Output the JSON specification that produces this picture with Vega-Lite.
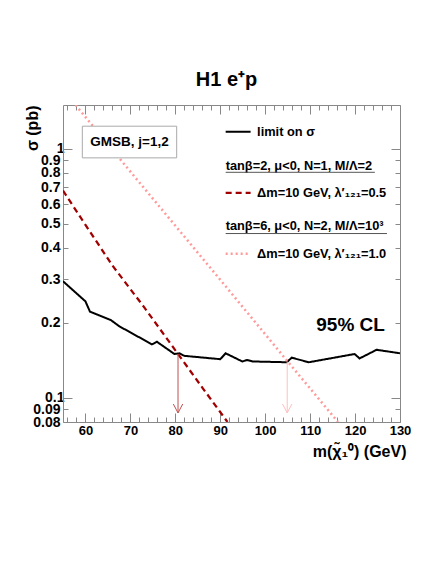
{
  "$schema": "https://vega.github.io/schema/vega-lite/v6.json",
  "autosize": {"type": "none"},
  "width": 337,
  "height": 317,
  "padding": {"left": 63, "top": 105, "right": 36, "bottom": 142},
  "background": "white",
  "title": {"text": "H1 e⁺p", "anchor": "middle", "offset": 12, "dx": -5, "fontSize": 20, "font": "Liberation Sans", "fontWeight": "bold", "color": "black"},
  "config": {
    "view": {"stroke": null},
    "font": "Liberation Sans",
    "axis": {"domainColor": "#888888", "tickColor": "#888888", "grid": false, "labelFont": "Liberation Sans", "labelFontWeight": "bold", "labelFontSize": 13, "labelColor": "black", "titleFont": "Liberation Sans", "titleFontWeight": "bold", "titleFontSize": 16, "titleColor": "black"}
  },
  "datasets": {
    "curves": [
      {"m": 55, "sigma": 0.294, "curve": "limit"},
      {"m": 60, "sigma": 0.244, "curve": "limit"},
      {"m": 61, "sigma": 0.222, "curve": "limit"},
      {"m": 65.7, "sigma": 0.205, "curve": "limit"},
      {"m": 67.5, "sigma": 0.194, "curve": "limit"},
      {"m": 74.8, "sigma": 0.164, "curve": "limit"},
      {"m": 75.9, "sigma": 0.168, "curve": "limit"},
      {"m": 79.8, "sigma": 0.150, "curve": "limit"},
      {"m": 80.9, "sigma": 0.151, "curve": "limit"},
      {"m": 82, "sigma": 0.1475, "curve": "limit"},
      {"m": 90, "sigma": 0.143, "curve": "limit"},
      {"m": 91.2, "sigma": 0.151, "curve": "limit"},
      {"m": 94.9, "sigma": 0.140, "curve": "limit"},
      {"m": 96, "sigma": 0.142, "curve": "limit"},
      {"m": 97.2, "sigma": 0.140, "curve": "limit"},
      {"m": 104.8, "sigma": 0.139, "curve": "limit"},
      {"m": 105.9, "sigma": 0.145, "curve": "limit"},
      {"m": 109.7, "sigma": 0.139, "curve": "limit"},
      {"m": 119.9, "sigma": 0.150, "curve": "limit"},
      {"m": 121, "sigma": 0.144, "curve": "limit"},
      {"m": 124.8, "sigma": 0.156, "curve": "limit"},
      {"m": 130, "sigma": 0.151, "curve": "limit"},
      {"m": 55, "sigma": 0.68, "curve": "n1"},
      {"m": 60, "sigma": 0.495, "curve": "n1"},
      {"m": 66, "sigma": 0.34, "curve": "n1"},
      {"m": 73, "sigma": 0.232, "curve": "n1"},
      {"m": 80.6, "sigma": 0.150, "curve": "n1"},
      {"m": 86, "sigma": 0.110, "curve": "n1"},
      {"m": 91.6, "sigma": 0.08, "curve": "n1"},
      {"m": 57.8, "sigma": 1.5, "curve": "n2"},
      {"m": 70, "sigma": 0.81, "curve": "n2"},
      {"m": 90, "sigma": 0.298, "curve": "n2"},
      {"m": 105, "sigma": 0.14, "curve": "n2"},
      {"m": 116.2, "sigma": 0.08, "curve": "n2"}
    ],
    "arrows": [
      {"m": 80.6, "top": 0.15, "tip": 0.087, "curve": "n1"},
      {"m": 104.9, "top": 0.14, "tip": 0.087, "curve": "n2"}
    ],
    "legendlines": [
      {"x1": 91.2, "x2": 96.75, "y": 1.17, "curve": "limit"},
      {"x1": 91.2, "x2": 96.75, "y": 0.666, "curve": "n1"},
      {"x1": 91.2, "x2": 96.75, "y": 0.379, "curve": "n2"}
    ],
    "labels": [
      {"x": 98.2, "y": 1.17, "label": "limit on σ"},
      {"x": 98.2, "y": 0.666, "label": "Δm=10 GeV, λ′₁₂₁=0.5"},
      {"x": 98.2, "y": 0.379, "label": "Δm=10 GeV, λ′₁₂₁=1.0"},
      {"x": 91.2, "y": 0.851, "label": "tanβ=2, μ<0, N=1, M/Λ=2"},
      {"x": 91.2, "y": 0.489, "label": "tanβ=6, μ<0, N=2, M/Λ=10³"}
    ],
    "underlines": [
      {"x1": 91.2, "x2": 124.4, "y": 0.805},
      {"x1": 91.2, "x2": 127.1, "y": 0.457}
    ],
    "box": [
      {"x1": 59.3, "x2": 80.3, "y1": 1.233, "y2": 0.92, "xc": 69.8, "yc": 1.065, "label": "GMSB, j=1,2"}
    ],
    "cl": [
      {"x": 119, "y": 0.197, "label": "95% CL"}
    ]
  },
  "layer": [
    {
      "data": {"name": "curves"},
      "mark": {"type": "line", "clip": true},
      "encoding": {
        "x": {"field": "m", "type": "quantitative", "scale": {"domain": [55, 130], "nice": false, "zero": false},
          "axis": {"orient": "bottom", "values": [56,58,60,62,64,66,68,70,72,74,76,78,80,82,84,86,88,90,92,94,96,98,100,102,104,106,108,110,112,114,116,118,120,122,124,126,128,130],
            "labelExpr": "datum.value % 10 === 0 ? datum.label : ''", "labelOverlap": false, "tickSize": {"condition": {"test": "datum.value % 10 === 0", "value": -9}, "value": -5}, "labelPadding": 11, "labelFlush": false,
            "title": "m(χ̃₁⁰) (GeV)", "titleX": 343, "titleY": 29, "titleAlign": "right", "titleBaseline": "middle"}},
        "y": {"field": "sigma", "type": "quantitative", "scale": {"type": "log", "domain": [0.08, 1.5], "nice": false},
          "axis": {"orient": "left", "values": [0.08,0.09,0.1,0.2,0.3,0.4,0.5,0.6,0.7,0.8,0.9,1],
            "labelExpr": "format(datum.value, '~g')", "labelOverlap": false, "labelFontSize": 14, "tickSize": {"condition": {"test": "datum.value === 0.1 || datum.value === 1", "value": -9}, "value": -5}, "labelPadding": 8, "labelFlush": false,
            "title": "σ (pb)", "titleX": -31, "titleY": 0, "titleAngle": -90, "titleAlign": "right", "titleBaseline": "middle"}},
        "color": {"field": "curve", "type": "nominal", "scale": {"domain": ["limit", "n1", "n2"], "range": ["black", "#a00000", "#ff9a9a"]}, "legend": null},
        "strokeDash": {"field": "curve", "type": "nominal", "scale": {"domain": ["limit", "n1", "n2"], "range": [[1, 0], [6, 4], [2, 3]]}, "legend": null},
        "strokeWidth": {"field": "curve", "type": "nominal", "scale": {"domain": ["limit", "n1", "n2"], "range": [2, 2.5, 2]}, "legend": null}
      }
    },
    {
      "data": {"name": "curves"},
      "mark": {"type": "point", "opacity": 0},
      "encoding": {
        "x": {"field": "m", "type": "quantitative",
          "axis": {"orient": "top", "labels": false, "title": null, "values": [56,58,60,62,64,66,68,70,72,74,76,78,80,82,84,86,88,90,92,94,96,98,100,102,104,106,108,110,112,114,116,118,120,122,124,126,128,130],
            "tickSize": {"condition": {"test": "datum.value % 10 === 0", "value": -9}, "value": -5}}},
        "y": {"field": "sigma", "type": "quantitative",
          "axis": {"orient": "right", "labels": false, "title": null, "values": [0.08,0.09,0.1,0.2,0.3,0.4,0.5,0.6,0.7,0.8,0.9,1],
            "tickSize": {"condition": {"test": "datum.value === 0.1 || datum.value === 1", "value": -9}, "value": -5}}}
      }
    },
    {
      "data": {"name": "arrows"},
      "mark": {"type": "rule", "strokeWidth": 1},
      "encoding": {
        "x": {"field": "m", "type": "quantitative", "axis": null},
        "y": {"field": "top", "type": "quantitative", "axis": null},
        "y2": {"field": "tip"},
        "stroke": {"field": "curve", "type": "nominal", "scale": {"domain": ["n1", "n2"], "range": ["#c05050", "#ffc0c0"]}, "legend": null}
      }
    },
    {
      "data": {"name": "arrows"},
      "mark": {"type": "point", "shape": "M-1,-1.9L0,0L1,-1.9", "filled": false, "size": 88, "strokeWidth": 1, "opacity": 1},
      "encoding": {
        "x": {"field": "m", "type": "quantitative", "axis": null},
        "y": {"field": "tip", "type": "quantitative", "axis": null},
        "stroke": {"field": "curve", "type": "nominal", "legend": null}
      }
    },
    {
      "data": {"name": "box"},
      "mark": {"type": "rect", "fill": "white", "stroke": "#aaaaaa", "strokeWidth": 1},
      "encoding": {
        "x": {"field": "x1", "type": "quantitative", "axis": null},
        "x2": {"field": "x2"},
        "y": {"field": "y1", "type": "quantitative", "axis": null},
        "y2": {"field": "y2"}
      }
    },
    {
      "data": {"name": "box"},
      "mark": {"type": "text", "fontSize": 13.5, "fontWeight": "bold", "font": "Liberation Sans", "align": "center", "baseline": "middle"},
      "encoding": {"x": {"field": "xc", "type": "quantitative", "axis": null}, "y": {"field": "yc", "type": "quantitative", "axis": null}, "text": {"field": "label", "type": "nominal"}}
    },
    {
      "data": {"name": "cl"},
      "mark": {"type": "text", "fontSize": 19, "fontWeight": "bold", "font": "Liberation Sans", "align": "center", "baseline": "middle"},
      "encoding": {"x": {"field": "x", "type": "quantitative", "axis": null}, "y": {"field": "y", "type": "quantitative", "axis": null}, "text": {"field": "label", "type": "nominal"}}
    },
    {
      "data": {"name": "legendlines"},
      "mark": {"type": "rule"},
      "encoding": {
        "x": {"field": "x1", "type": "quantitative", "axis": null},
        "x2": {"field": "x2"},
        "y": {"field": "y", "type": "quantitative", "axis": null},
        "color": {"field": "curve", "type": "nominal", "legend": null},
        "strokeDash": {"field": "curve", "type": "nominal", "legend": null},
        "strokeWidth": {"field": "curve", "type": "nominal", "legend": null}
      }
    },
    {
      "data": {"name": "labels"},
      "mark": {"type": "text", "align": "left", "baseline": "middle", "fontSize": 12.8, "fontWeight": "bold", "font": "Liberation Sans", "color": "black"},
      "encoding": {
        "x": {"field": "x", "type": "quantitative", "axis": null},
        "y": {"field": "y", "type": "quantitative", "axis": null},
        "text": {"field": "label", "type": "nominal"}
      }
    },
    {
      "data": {"name": "underlines"},
      "mark": {"type": "rule", "color": "#555555", "strokeWidth": 1},
      "encoding": {
        "x": {"field": "x1", "type": "quantitative", "axis": null},
        "x2": {"field": "x2"},
        "y": {"field": "y", "type": "quantitative", "axis": null}
      }
    }
  ],
  "resolve": {"axis": {"x": "independent", "y": "independent"}}
}
